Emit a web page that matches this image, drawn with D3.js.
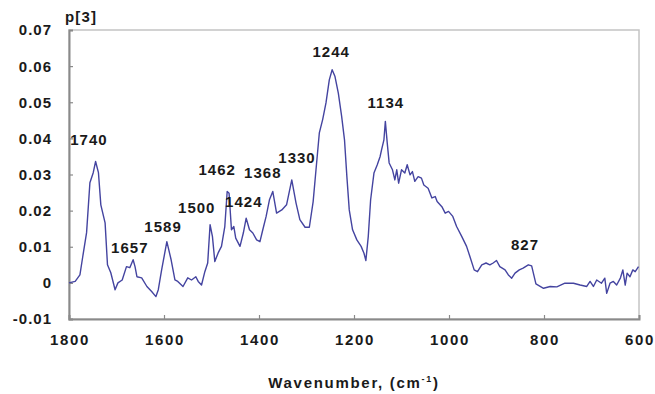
<!DOCTYPE html>
<html>
<head>
<meta charset="utf-8">
<script src="https://cdn.jsdelivr.net/npm/d3@7"></script>
<style>
  html, body { margin: 0; padding: 0; background: #ffffff; }
  svg { display: block; }
  text { font-family: "Liberation Sans", Arial, sans-serif; font-weight: bold; fill: #1a1a1a; }
</style>
</head>
<body>
<svg id="chart" width="655" height="394"></svg>
<script>
// Loading spectrum p[3] versus wavenumber (cm-1)
const wavenumber = [
  1800, 1787, 1777, 1771, 1763, 1756, 1749, 1744, 1738, 1733, 1724, 1719, 1712, 1703, 1697, 1688,
  1679, 1672, 1665, 1661, 1657, 1647, 1636, 1626, 1617, 1612, 1605, 1594, 1585, 1577, 1571, 1560,
  1550, 1542, 1533, 1528, 1521, 1514, 1508, 1503, 1498, 1493, 1486, 1479, 1472, 1467, 1463, 1458,
  1453, 1449, 1440, 1433, 1427, 1420, 1413, 1405, 1398, 1392, 1385, 1378, 1371, 1363, 1352, 1342,
  1331, 1322, 1314, 1303, 1294, 1286, 1280, 1273, 1266, 1259, 1252, 1246, 1240, 1233, 1226, 1220,
  1215, 1210, 1203, 1194, 1185, 1179, 1175, 1170, 1165, 1158, 1151, 1145, 1142, 1137, 1134, 1130,
  1126, 1119, 1114, 1110, 1106, 1100, 1093, 1088, 1082, 1077, 1072, 1065, 1058, 1053, 1044, 1036,
  1029, 1025, 1015, 1008, 1001, 992, 984, 973, 963, 956, 947, 940, 931, 922, 914, 907,
  900, 893, 882, 875, 868, 861, 852, 844, 833, 826, 817, 801, 787, 773, 756, 738,
  724, 710, 703, 696, 689, 679, 672, 668, 661, 654, 647, 639, 634, 629, 625, 619,
  613, 608, 601
];
const loading = [
  0.0000, 0.0004, 0.0022, 0.0073, 0.0139, 0.0277, 0.0305, 0.0336, 0.0305, 0.0216, 0.0166, 0.0050, 0.0028, -0.0019, 0.0000, 0.0008,
  0.0045, 0.0042, 0.0064, 0.0045, 0.0017, 0.0014, -0.0010, -0.0024, -0.0038, -0.0019, 0.0036, 0.0114, 0.0064, 0.0008, 0.0004, -0.0010,
  0.0014, 0.0008, 0.0017, 0.0004, -0.0006, 0.0031, 0.0055, 0.0161, 0.0128, 0.0059, 0.0083, 0.0101, 0.0156, 0.0253, 0.0248, 0.0147,
  0.0156, 0.0124, 0.0101, 0.0138, 0.0179, 0.0147, 0.0138, 0.0119, 0.0114, 0.0147, 0.0184, 0.0230, 0.0253, 0.0193, 0.0202, 0.0216,
  0.0285, 0.0221, 0.0175, 0.0154, 0.0154, 0.0225, 0.0313, 0.0415, 0.0452, 0.0498, 0.0562, 0.0590, 0.0571, 0.0525, 0.0461, 0.0396,
  0.0294, 0.0202, 0.0147, 0.0119, 0.0101, 0.0082, 0.0062, 0.0128, 0.0230, 0.0304, 0.0327, 0.0350, 0.0368, 0.0396, 0.0447, 0.0387,
  0.0332, 0.0313, 0.0285, 0.0313, 0.0276, 0.0313, 0.0304, 0.0327, 0.0299, 0.0308, 0.0281, 0.0294, 0.0290, 0.0271, 0.0262, 0.0235,
  0.0239, 0.0225, 0.0211, 0.0193, 0.0198, 0.0184, 0.0156, 0.0128, 0.0101, 0.0073, 0.0036, 0.0031, 0.0050, 0.0055, 0.0050, 0.0055,
  0.0062, 0.0045, 0.0036, 0.0022, 0.0013, 0.0027, 0.0036, 0.0041, 0.0050, 0.0047, -0.0003, -0.0015, -0.0010, -0.0011, -0.0001, -0.0001,
  -0.0006, -0.0010, 0.0004, -0.0010, 0.0008, -0.0001, 0.0013, -0.0029, -0.0001, 0.0004, -0.0006, 0.0014, 0.0036, -0.0006, 0.0027, 0.0017,
  0.0036, 0.0031, 0.0045
];

// Axis ticks
const xTicks = [1800, 1600, 1400, 1200, 1000, 800, 600];
const yTicks = [-0.01, 0, 0.01, 0.02, 0.03, 0.04, 0.05, 0.06, 0.07];
const yTickLabels = ["-0.01", "0", "0.01", "0.02", "0.03", "0.04", "0.05", "0.06", "0.07"];

// Band assignments and where their captions sit (wavenumber, p[3])
const peakLabels = ["1740", "1657", "1589", "1500", "1462", "1424", "1368", "1330", "1244", "1134", "827"];
const labelWn    = [1758, 1672, 1602, 1531, 1488, 1432, 1392, 1320, 1248, 1133, 840];
const labelVal   = [0.0382, 0.0083, 0.0141, 0.0194, 0.0299, 0.0211, 0.0291, 0.0332, 0.0626, 0.0485, 0.0091];

const svg = d3.select("#chart");
const plot = { left: 69, right: 639, top: 30, bottom: 319 };

const x = d3.scaleLinear().domain([1800, 600]).range([plot.left, plot.right]);
const y = d3.scaleLinear().domain([-0.01, 0.07]).range([plot.bottom, plot.top]);

// Plot frame: light top/right edges
svg.append("rect")
  .attr("x", plot.left).attr("y", plot.top)
  .attr("width", plot.right - plot.left).attr("height", plot.bottom - plot.top)
  .attr("fill", "none").attr("stroke", "#c4c4c4").attr("stroke-width", 1.5);

// Y axis
const yAxis = d3.axisRight(y).tickValues(yTicks).tickSize(4).tickFormat("");
const gy = svg.append("g").attr("transform", `translate(${plot.left},0)`).call(yAxis);
gy.select(".domain").attr("stroke", "#8a8a8a").attr("stroke-width", 2);
gy.selectAll(".tick line").attr("stroke", "#8a8a8a").attr("stroke-width", 1.2);

svg.append("g").selectAll("text")
  .data(yTicks)
  .join("text")
  .attr("x", 52)
  .attr("y", d => y(d))
  .attr("dy", "0.36em")
  .attr("text-anchor", "end")
  .attr("font-size", 15)
  .attr("letter-spacing", "1px")
  .text((d, i) => yTickLabels[i]);

// X axis
const xAxis = d3.axisTop(x).tickValues(xTicks).tickSize(4).tickFormat("");
const gx = svg.append("g").attr("transform", `translate(0,${plot.bottom})`).call(xAxis);
gx.select(".domain").attr("stroke", "#8a8a8a").attr("stroke-width", 2);
gx.selectAll(".tick line").attr("stroke", "#8a8a8a").attr("stroke-width", 1.2);

svg.append("g").selectAll("text")
  .data(xTicks)
  .join("text")
  .attr("x", d => x(d) + 1)
  .attr("y", 345)
  .attr("text-anchor", "middle")
  .attr("font-size", 15)
  .attr("letter-spacing", "1.6px")
  .text(d => d);

// Axis titles
const xt = svg.append("text")
  .attr("x", (plot.left + plot.right) / 2)
  .attr("y", 388)
  .attr("text-anchor", "middle")
  .attr("font-size", 15)
  .attr("letter-spacing", "1.7px");
xt.append("tspan").text("Wavenumber, (cm");
xt.append("tspan").attr("font-size", 9).attr("dy", -6).text("-1");
xt.append("tspan").attr("dy", 6).text(")");

svg.append("text")
  .attr("x", 65).attr("y", 22)
  .attr("font-size", 15)
  .attr("letter-spacing", "1.2px")
  .text("p[3]");

// Spectrum
const series = wavenumber.map((w, i) => ({ w, v: loading[i] }));
svg.append("path")
  .datum(series)
  .attr("fill", "none")
  .attr("stroke", "#4444a0")
  .attr("stroke-width", 1.4)
  .attr("stroke-linejoin", "round")
  .attr("d", d3.line().x(d => x(d.w)).y(d => y(d.v)));

// Band captions
svg.append("g").selectAll("text")
  .data(peakLabels)
  .join("text")
  .attr("x", (d, i) => x(labelWn[i]))
  .attr("y", (d, i) => y(labelVal[i]))
  .attr("text-anchor", "middle")
  .attr("font-size", 15)
  .attr("letter-spacing", "1px")
  .text(d => d);
</script>
</body>
</html>
